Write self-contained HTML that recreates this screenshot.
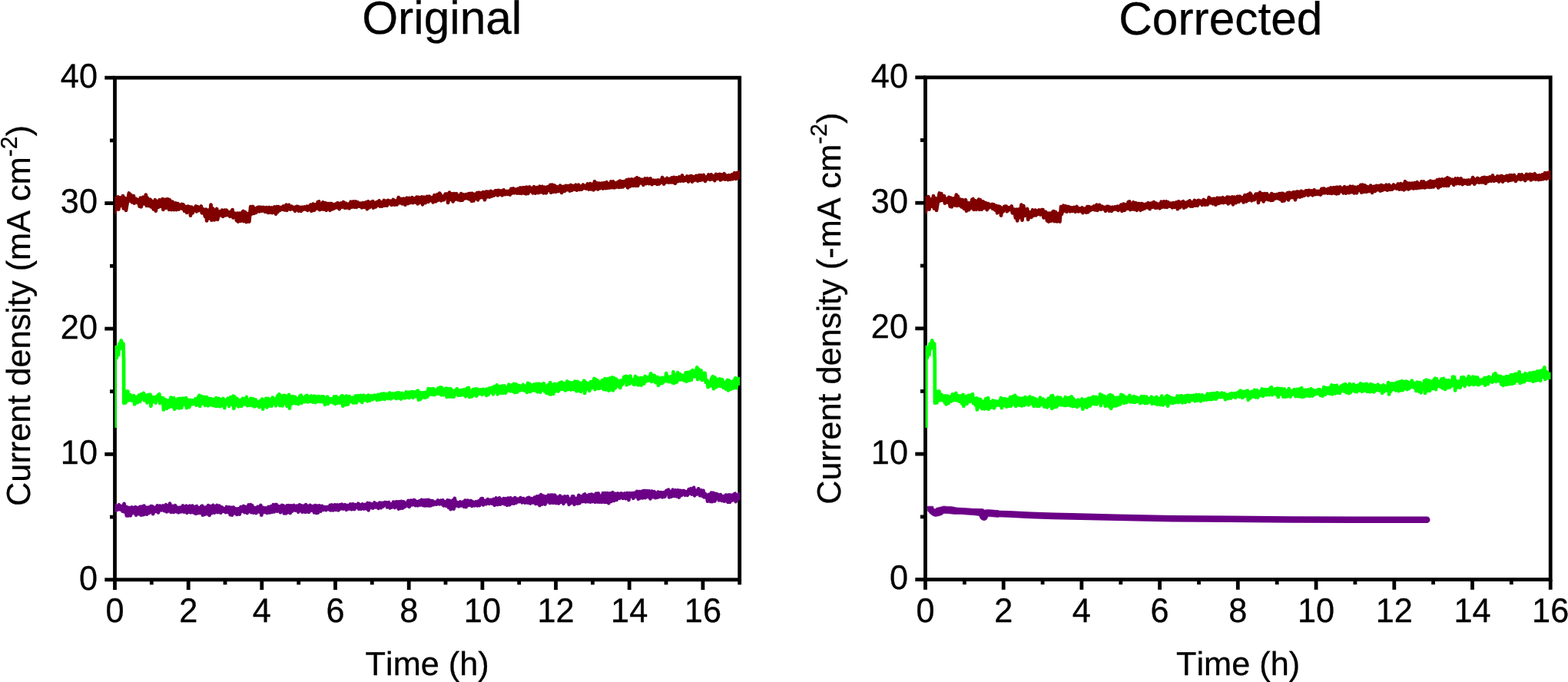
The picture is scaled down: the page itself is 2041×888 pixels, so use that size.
<!DOCTYPE html>
<html lang="en"><head><meta charset="utf-8"><title>Original vs Corrected</title>
<style>
html,body{margin:0;padding:0;background:#fff;}
body{width:2041px;height:888px;overflow:hidden;}
svg{display:block;}
text{text-rendering:geometricPrecision;font-kerning:none;font-family:"Liberation Sans",sans-serif;font-size:43.3px;fill:#000;stroke:#000;stroke-width:0.3px;stroke-linejoin:round;}
.title{font-size:60.4px;}
</style></head><body>
<svg width="2041" height="888" viewBox="0 0 2041 888">
<rect width="2041" height="888" fill="#fff"/>
<g id="left-plot">
<rect x="149.5" y="101.2" width="813.2" height="653.6" fill="none" stroke="#000" stroke-width="4.8"/>
<g stroke="#000" stroke-width="4.8" fill="none"><line x1="149.5" y1="754.8" x2="149.5" y2="768"/><line x1="197.3" y1="754.8" x2="197.3" y2="761.3"/><line x1="245.2" y1="754.8" x2="245.2" y2="768"/><line x1="293" y1="754.8" x2="293" y2="761.3"/><line x1="340.8" y1="754.8" x2="340.8" y2="768"/><line x1="388.7" y1="754.8" x2="388.7" y2="761.3"/><line x1="436.5" y1="754.8" x2="436.5" y2="768"/><line x1="484.3" y1="754.8" x2="484.3" y2="761.3"/><line x1="532.2" y1="754.8" x2="532.2" y2="768"/><line x1="580" y1="754.8" x2="580" y2="761.3"/><line x1="627.9" y1="754.8" x2="627.9" y2="768"/><line x1="675.7" y1="754.8" x2="675.7" y2="761.3"/><line x1="723.5" y1="754.8" x2="723.5" y2="768"/><line x1="771.4" y1="754.8" x2="771.4" y2="761.3"/><line x1="819.2" y1="754.8" x2="819.2" y2="768"/><line x1="867" y1="754.8" x2="867" y2="761.3"/><line x1="914.9" y1="754.8" x2="914.9" y2="768"/><line x1="962.7" y1="754.8" x2="962.7" y2="761.3"/><line x1="149.5" y1="754.8" x2="136.3" y2="754.8"/><line x1="149.5" y1="673.1" x2="143" y2="673.1"/><line x1="149.5" y1="591.4" x2="136.3" y2="591.4"/><line x1="149.5" y1="509.7" x2="143" y2="509.7"/><line x1="149.5" y1="428" x2="136.3" y2="428"/><line x1="149.5" y1="346.3" x2="143" y2="346.3"/><line x1="149.5" y1="264.6" x2="136.3" y2="264.6"/><line x1="149.5" y1="182.9" x2="143" y2="182.9"/><line x1="149.5" y1="101.2" x2="136.3" y2="101.2"/></g>
<clipPath id="cl"><rect x="149.5" y="99" width="813.5" height="658.0"/></clipPath>
<g clip-path="url(#cl)">
<path d="M149.1,655.8 149.9,664.9 151.1,659 152.7,663.8 154.7,657.3 156.3,663.4 157.9,659 159.6,665.6 161.6,655.8 162.4,666.7 163.9,659.9 164.8,671.4 166.1,660.6 167.3,671.3 168.7,661 169.9,671.3 171.8,660.5 173.6,667.9 174.8,661.3 176.2,660.2 177.1,670.7 178.9,661.1 180.6,669.1 182.3,659.8 183.6,670.7 184.7,659.7 186.4,670.2 187.5,658.5 188.8,669.5 190.2,660.8 191.3,669.7 192.9,660.5 194.5,667.8 196.4,659.2 198.4,659.4 199.2,669.2 201.3,660.9 203.1,665.8 204.7,658.4 206,667.5 208.1,658.6 210.2,664.2 212.1,658.4 213.9,665.2 216,657.2 216.8,666.4 218.1,658.3 219.3,665.4 221.1,655.6 222.6,666.9 224.6,658.9 226,666.9 228.1,658.2 230,666.3 231.1,660.9 232.5,667.3 234.5,660.7 236,666.3 238.1,658.4 239.6,666.7 240.8,659.7 242.5,658.6 243.3,667.8 244.4,661.8 245.8,666.5 247,658.7 248.4,667.3 250.4,658.6 252.3,667.5 253.5,660 254.9,668.8 256.1,659 257.3,668.1 259.2,661.3 260.4,667.9 262.1,659.3 263.1,658.7 263.9,670.7 265,660.3 266.8,669.8 268,660.7 269.8,669 271,658.2 272.5,671 273.8,659 275.2,668.3 277.3,657.9 279.2,667.7 280.6,659.7 282.2,658 283.1,667.1 285.4,658.6 287.3,667.7 289,660.5 290.3,665.8 292.3,662.2 293.7,667.1 295,660 296.9,666.9 298.3,660.3 299.7,670.1 301.2,660.8 302.1,670.7 303.8,660.5 305.2,668.1 306.9,662.5 308.3,669.9 309.9,662.3 311.9,669.5 313.5,660 315.2,665.5 317.1,659 318.4,667.1 319.7,660 321.7,668 323.6,657.5 325,666 326.2,657.2 327.1,667.2 328.1,658.1 330.1,667.6 331.4,661.1 333.4,668.1 335.4,659.8 337.1,666.4 339.4,657.9 340.3,670.6 343.1,660.9 344.4,666.7 346.2,661.4 347.6,667.9 349.5,660 351.2,667.4 352.6,659.3 353.9,666.9 355.7,657.2 356.9,666.4 358.2,657 360.1,657.2 360.9,665.7 363.5,659.4 364.9,667.2 366.9,658 368.9,658.6 369.8,668.5 370.7,660.4 372.3,668.4 373.5,658.4 374.7,667.1 376.2,658.2 377.9,668 379.1,658.3 380.6,665.5 382.6,658 384.6,664.6 386.4,658.6 388.2,666.6 389.9,657.4 391.1,664.9 392.3,658.2 393.4,666.7 395.4,658.6 397.2,666.7 398.2,657.2 399.1,666.4 400.4,658.8 402.1,666.8 403.7,657.8 405.5,664.6 406.9,659.1 409,667.3 410.2,658.1 411.8,667.9 412.9,658.6 413.8,667.7 415.7,658.3 417.5,665.6 419.3,658.8 421.2,663.7 423.2,660.1 424.6,664.1 426.4,660.1 428.4,663.3 429.6,658 430.4,664.4 431.9,657.5 433.7,664.4 435.7,657.3 437.4,663.9 439.1,657.4 440.6,664.3 442.2,657.4 443.9,662.3 445.1,656.7 446.9,662.6 449,657.3 450.9,663.8 452.7,657.9 454.2,662.6 456.1,656.4 457.7,663.2 459.3,656.3 461.2,663.1 462.4,657.1 464.2,660.7 466.2,655.8 467.1,662.6 468.7,657.2 470,662.7 471.8,656.4 473.4,662.5 475.1,656.9 477.1,662.4 478.5,655 479.6,664.3 481,655.3 482.8,660.9 484.1,656.4 485.4,661.6 487.4,654.5 489.1,660.4 490.7,656 492.6,661.9 494.1,654.6 495.8,661.2 497.2,654.8 498.7,659.4 500.6,654.1 503.1,654.3 503.9,660.5 506,654.1 507.7,661.4 509.1,656.4 510.4,660.3 512,653.6 513.9,661 515.8,653.3 517.8,653.5 518.7,662.6 519.7,653.4 521.1,661.9 522.3,652.8 523.9,661.7 525.3,653.4 526.6,660.2 528.1,654.8 529.8,658.5 531.4,651.9 532.9,659.8 534.8,651.6 536.8,657.3 538.4,651.1 539.8,651.3 540.7,658.2 542.7,653.3 543.9,658.3 545.7,652.4 547.3,657.6 548.7,650.9 550.6,658 551.8,651.3 553,658.5 554.6,651.1 555.7,658.3 557.6,650.9 559,658.5 560.2,651.9 561.4,658.1 563.1,652.2 564.7,657 566.4,653.6 568.1,656.6 570,651.4 572.1,656.3 573.9,651.7 575.2,656.3 576.5,651.3 577.5,658.4 579.2,653.4 580.7,658.7 582.5,651.3 583.8,660.8 585.2,651.7 586.7,663.1 588.5,652.2 589.8,651.3 590.7,662.6 591.8,648.9 593.6,658.6 595.1,654.1 597,659.3 599,653.4 600.2,658.4 602.2,653.6 604,659.8 605.3,651.5 606.8,660 608.6,651.6 610.6,657.8 612,652 613.2,652 614.2,658.9 615.7,653.6 617.5,658.2 619.6,653.3 621.1,658.4 622.9,652.5 624.2,658.1 626,649.6 627.9,649.1 628.9,657.4 631.5,651.9 632.8,656.3 634.8,650.1 636.8,655.8 638.9,651 640.5,655.7 642.4,649.9 643.8,657.8 645.8,648.5 647.8,657 650,648.4 651,656.7 652,650.1 653.6,655.5 655.5,649.1 657.1,656.4 658.2,649.4 660.1,657.8 661.3,648.6 663.2,657.3 664.5,648.3 665.9,655.6 667.8,649.7 669,655.7 670.3,648.1 671.9,654.7 673.7,649.6 675.7,653.2 677.4,648.1 679.5,654.3 681.1,649.1 683.1,654.5 684.3,649.8 685.6,654.3 686.8,648.4 687.7,654.7 688.6,647.9 690.5,655.5 692.2,649.2 693.8,654.4 695.8,647.7 697.4,656 698.8,646.4 700.3,655.8 701.4,646.2 702.4,658.1 704.2,644.2 705.6,656.7 707.5,645.7 709.5,656.5 711.2,646.3 712.8,653.3 714.1,644.7 715.8,655 717.1,644.5 718.1,654.4 719.1,644.6 720.2,654.8 722.3,644.7 723.9,655.1 725.4,647.4 727.3,655.4 728.9,645.5 730.5,653.8 732.3,647.5 733.5,655.9 735.1,646.3 736.7,653.2 738.7,646.3 740.7,656.8 742.1,649.8 743.7,654.8 744.9,646.4 746.5,646.4 747.5,656.9 750.3,649 751.9,655.6 753.3,644.9 754.6,655.1 756.3,646.2 758.4,653.1 759.6,644.5 761.2,643.5 762.2,653.4 763.9,645.4 765.3,653.2 767,644.1 768.5,653.6 769.9,643.7 771.6,653 772.9,644.5 774.7,653.7 775.9,642.5 777.5,653.4 778.9,642.4 780.2,653.7 781.8,645.9 783.4,653.8 784.8,642.2 786.4,653.6 787.8,642.1 788.7,653.9 790.6,642 792.3,655.1 794,642.4 795.7,653 797.6,641.2 799.3,651.9 801.3,642.8 802.6,650.9 804.4,642.5 806.3,648.9 808.3,642.4 809.8,642.7 810.7,648.9 813.2,642.4 814.5,649.1 816.6,641.9 818.5,651 819.8,642.1 821.1,646.3 823,642.1 824.3,648.8 825.5,641.8 827.5,646.5 829,639.8 830.9,649.7 832.1,640.1 833.6,648.4 835.4,639.8 836.5,648.5 837.8,639.2 839.1,639.1 840.1,648.2 841.6,639.1 843.7,646.8 844.9,639.4 846.5,649.4 848.3,639.6 849.9,647.1 851.7,640.2 853,648.1 854.2,642.4 855.4,647.8 856.6,640.5 858.2,646.9 859.9,641 861.2,641.2 862.2,647.4 864.1,641.1 865.4,646.6 867.3,639.2 870,637.8 871,647.4 872.6,640 873.8,646.7 875.8,637.7 877.4,645.9 879.2,638.3 880.7,646.3 882.2,638.3 883.9,647.5 885.4,638.7 887.1,644.9 888.2,639.2 890.6,639 891.6,644.6 893.2,640.3 894.8,644.8 896.6,637.2 898.1,642.7 899.4,636.2 900.7,643.5 903.1,634.8 904.1,645.3 905.4,638.6 907.3,643.4 909.1,636.4 911.1,645.1 912.8,638.4 914.3,645.8 915.6,638.9 916.6,647.4 917.6,642.7 920,645.1 921,652.7 922.9,643.8 924.9,652.9 925.9,641.6 926.9,653.2 928.6,641.9 930.5,652.5 932,642.9 934.8,644.1 935.7,651.3 937.8,644.1 939.6,651.9 941.5,646.2 943,652.6 944.8,644.6 946.5,644.9 947.5,654 949,644.3 950.1,653.8 951.6,644.7 953.3,651.4 955.1,643.6 956.8,642.8 957.7,653.2 960.2,644.6 961.9,643.4 962.9,651.1" fill="none" stroke="#6b0087" stroke-width="4.7" stroke-linejoin="round" stroke-linecap="butt"/>
<path d="M149.5,557 149.5,454.6 151,452 151.8,466 152.9,452.5 154.1,462 155.2,447.5 156.4,454 157.7,443.3 159,449 160.5,447.6 161.1,470 161.2,524.8 162,516 162.8,509.4 163.6,524.4 165.2,514 166.4,509.4 167.2,521.3 169.7,514.1 171,521.4 172.2,516.1 174.2,515.3 175.1,526.3 177.4,517.2 178.8,524.2 180.8,514.6 182.2,522.9 183.9,513.4 185.9,519.2 186.9,511.8 187.8,521.4 189.7,514.9 191.5,524.4 192.7,514.2 195.6,513.9 196.4,528.8 197.8,516.8 199.1,523.1 201,517.1 202.7,524.5 204.7,515.8 207.4,513.3 208.2,525 210.3,518.2 212.1,518.2 212.9,533.5 215.1,520.1 217.2,531.9 218.6,521.7 220.5,530 222.5,517.6 224.2,529.5 226.2,518.1 227.1,532.7 229.2,520.9 230.5,531 231.6,519.4 233.3,531.5 234.4,518.9 236.4,531 238,518.7 239.7,526.8 242.1,518.1 242.9,531.2 244.9,520.9 246.3,530.2 247.8,520.9 249.5,526.4 250.9,521.3 252.6,525.9 254.2,519.5 255.8,527.7 257.5,518.3 259.4,514.9 260.2,528.9 262.4,516 263.9,525.5 265.4,516.8 266.9,527.9 269,517 271,528.3 272.6,519 274.1,526.9 275.3,519.3 277.3,527.9 278.6,520.1 280.2,528.6 281.4,518 282.3,529 284.6,518.9 285.9,529.1 287,520.2 288.7,528.3 290.6,519 292.3,531.1 293.6,521 295.4,525.6 296.6,518.7 298.1,528.9 300,517.4 302,526.8 303.6,515.7 304.4,531.8 305.5,516.6 307.1,527.4 308.7,519.1 310.4,529.3 312.5,521.2 314.3,528.9 315.9,518.8 317.7,526.4 319.4,521 320.9,517 321.8,528.1 322.8,521.2 324.7,527.7 326.4,518.8 328.4,528.2 329.5,519.4 331.1,529.5 332.9,520.5 334.3,527.9 335.6,523.2 337.4,530.2 338.9,521.8 340.3,528.8 341.4,519.5 342.2,532.7 343.5,521.3 345,528.4 346.2,518.9 347.5,530.5 348.9,518.8 350.8,528.4 352.1,520.4 353.5,528.7 354.7,517.7 356.3,525.3 357.6,519.5 359.1,528.3 360.9,516.3 363.4,513.4 364.3,528.1 366,515.5 367.5,528.3 369.4,514.8 370.6,525.2 371.9,515.3 373.5,528.8 375,516.8 376.1,514 376.9,531.7 378.6,516.4 380.2,525.8 381.5,516.3 382.9,524.6 384.2,516.9 385.4,525.4 387.2,519.1 388.5,526.1 390.4,515.7 391.8,514.8 392.6,524.9 394.9,517.7 396.6,523 397.8,515.8 399.6,514.9 400.4,523.5 402.4,516.9 403.5,522.6 405.2,515.6 407.3,523.6 409.2,515.7 410.6,524.1 412.2,516.5 413.5,522.8 414.9,516.1 416.9,523 418.8,516.3 419.9,523.2 421.4,516.5 423.1,526.8 424.4,519.1 426.2,516.7 427.1,525.9 428.3,518.8 429.9,523.6 431.4,519.3 433.3,524.1 435,516.4 436.3,526 437.6,516.4 438.9,524.9 440.8,518.1 442.4,524.5 444.2,515.9 445.4,515.3 446.3,528.6 448.2,516.8 449.5,527.1 451,515.7 453,526.5 454.8,516 456.3,522.8 458.1,518.1 459.4,524.4 460.6,517 461.8,524.3 463.1,515.3 463.9,524.3 466.3,515.2 468.3,521.6 469.6,515 471.2,523.9 473.2,514.7 474.9,521 476.5,515.8 478.4,522.3 479.5,514.7 481.5,521.5 483.3,515.5 485.2,520 487.1,514.7 488.3,518.8 489.5,514.8 490.8,520.9 492.4,513.9 494.4,520.3 496.4,512.8 497.9,519.4 499.8,512.4 500.6,519.9 502.9,513.1 505,518.9 507,511.6 508.8,519.3 510.8,512.4 512.7,517.6 514.4,512.1 515.9,518.9 517.3,511.4 518.6,518.4 519.8,511.6 521.8,519.5 523.2,511.9 524.3,518.2 525.8,513.5 527,518.3 528.5,510.5 530,517.4 531.3,510.9 532.8,517.9 534.4,510.6 536.5,510.2 537.5,517.9 539.1,510.5 540.8,516.2 542.7,509.3 543.8,508.7 544.8,520.6 546.3,510.8 547.4,519.6 549.4,511.3 551.1,517.4 552.4,511.1 553.6,517.8 555,510.6 556.4,516.6 557.6,506 558.8,513.8 560.9,506.5 562.8,513.8 564,506 565.6,514.1 567.5,507.8 569.1,512.7 570.3,505.5 571.7,512.7 573.2,504.3 574.2,514.2 575.2,504.8 576.9,514.3 578.5,507.1 580.6,505.7 581.6,517 583.1,506.1 585,516.5 586.8,506.2 588.3,516.7 589.6,508.9 590.8,516.6 592,508.5 593.2,513.5 594.8,506.3 596.7,514.8 598,508.3 599.6,514.6 601.3,507.9 603,514 604.2,507.3 606.2,516.2 607.8,505.8 610,505 611,517 612.4,508.7 614.4,516.3 615.9,507.1 617.4,514.1 619,506.3 620.3,515.7 621.8,506.7 623.8,512.8 625.5,507.5 627.4,513.9 628.7,506.9 630.7,512.4 632,507.1 633,514.8 633.9,506.7 635.5,514 637.3,505.4 639,511.1 640.7,504.7 642,513.3 643.7,503.1 645.1,509.9 646.8,501.4 647.7,513.3 650.6,503.1 652.2,511.8 653.6,502.6 655.1,511.8 656.3,502.3 658.2,511.6 659.3,504.7 661,508.7 662.4,500.7 664.3,509.2 665.6,501.5 667.3,509.4 668.8,499.9 669.8,511.1 671.7,500.2 673.2,510.6 674.9,501.8 676.3,508.5 677.4,502.7 679,507.5 680.9,500.8 682.2,508.4 684.2,502.8 685.8,510.9 687.1,498.8 688.3,509.7 689.5,499.9 690.5,510 692.6,501.6 693.8,508.4 695.4,500.5 696.8,508.6 698.3,499.8 699.9,510.3 701.7,499.5 703.3,510.7 704.7,500.5 706,507.5 707.9,499.2 709.1,510 710.3,502.7 711.5,511.9 713.4,501.3 715.1,513.1 716.2,498 717.2,513.5 718.8,501 720.2,513 721.8,499.9 723.6,509 724.9,500.2 726.8,509.4 728.3,498.7 729.5,506.9 730.9,497.5 732.6,506.9 733.9,499.1 735.9,508.4 738.3,496.5 739.2,507.2 741.5,498 743.2,507.5 744.9,498.4 746.2,507.1 748.2,496.7 750.2,509.1 751.7,496.8 753.2,508.9 754.4,498.4 756.1,510 758.1,499.9 760.3,495.8 761.2,512 762.7,497.8 764.6,506.4 765.8,499.3 767.2,508.9 769,497 770.1,505.1 772,497.8 773.5,492.9 774.5,507.1 775.4,494.2 776.9,505.4 778.2,495.7 779.4,505.8 780.6,497.7 782,505.3 783.8,495.1 785.7,507 787.4,493.1 788.8,507.3 790.6,493.4 792.4,508.6 793.9,492.4 795.1,507.4 797.1,491.3 798.1,508.4 799.3,492.4 800.8,505.3 802,493.5 803.9,502.9 805.3,495.8 807.3,505 809.1,495.2 810.3,500.5 812.3,490.7 814.8,489.9 815.7,501.2 817.8,490.7 819.3,499.8 820.5,489.6 821.7,498.1 823.2,494.5 825.1,500.8 827,490 828.2,500.5 829.7,491.9 830.9,501.4 832.3,493.5 833.8,492 834.8,501.7 836.5,492.3 838.3,499.6 839.6,489.9 841.6,496.2 843.2,491.2 844.7,495.4 847.1,486.3 848.1,497 849.4,488.6 850.6,496.1 852,489 853.4,498.2 855.9,491 856.9,501.8 858.4,492.8 859.8,499.4 861,491.8 862.4,498.7 863.9,492 865.9,496.2 867.2,486.1 868.6,496.4 869.8,490.5 871.2,497.2 873.2,490.5 875.2,498.3 876.5,484.1 877.5,498.9 879.3,488.2 881,497.5 882.2,485.2 883.8,494.5 885.6,487.4 886.7,494.3 888.6,488.8 890.3,495.4 892.6,485.4 893.6,496.7 895.4,484.8 897,495.4 898.2,484.4 899.8,494.8 901.2,482.1 902.6,490.3 903.8,483.2 905.1,490.2 906.2,483 907.3,478.3 908.2,494 909.2,480.6 910.9,492.6 912.5,482.3 913.8,494.9 915.1,486 917.6,485.8 918.6,497.8 920.6,495.5 921.6,504.2 923.6,498.2 924.7,502.4 926.1,493.1 927.9,490.3 928.9,506.2 930.7,491.5 932.3,504.1 934.2,494.1 935.4,502.4 936.8,493.3 937.7,502.9 940.2,494.2 941.7,504.8 943,498.4 944.9,506.5 946.1,495.8 947,494.9 948,508.4 949.2,495.7 951.1,506.8 953.1,496.9 954.5,505.7 955.9,495.5 957.3,492.2 958.2,505.2 960,493 962.5,493.3 963.5,501.8" fill="none" stroke="#00ff00" stroke-width="4.7" stroke-linejoin="round" stroke-linecap="butt"/>
<path d="M149.1,255.4 149.9,276.2 151.2,258.3 153.6,256.4 154.4,272.6 156.2,257.3 157.9,267.8 160,255.1 160.8,271.5 161.9,257.5 163.2,258.5 164,273.9 166.7,258 167.9,251.5 168.8,261.5 170.3,253.5 171.9,263.3 174,255.1 174.8,264.7 177.2,259 178.6,263.9 180.1,260.2 181.7,268.7 182.9,257.6 183.8,269.4 186.4,256.7 187.9,265.4 189.9,253.5 190.8,267.8 191.8,257.6 193.5,268 195.6,259.7 196.4,269.4 197.7,261.8 199.7,272.4 202,260.2 202.8,274.6 204.4,262.4 206.3,269.8 207.5,260.3 208.9,268.7 210.3,261.7 211.6,259.1 212.4,272.8 214.4,259.8 215.8,270.8 217.3,259.4 219.2,259.6 220,272.8 221,260.3 223,273.1 224.8,262.7 226.5,273.1 227.7,266.2 228.8,264.5 229.6,273.2 231.6,265.1 232.8,272.5 234.2,267.6 236.4,266 237.2,271.8 238.5,266.3 240.1,274.7 241.7,269 243.1,276.9 244.8,268.7 247.2,269.7 248,280.6 249.3,269.7 250.8,277.3 252.3,271.9 254.9,268.6 255.8,275.3 257.4,269.2 258.5,274 260.1,271.1 261.9,268.6 262.8,277.3 265.1,272.5 266.9,281.7 268.2,272.7 269.1,287.3 271.5,273.6 272.6,284.3 274.6,266.6 275.4,286.7 277.3,271.7 278.9,286.4 280.4,275.5 282.2,272 283.1,285.9 285.4,275.3 287.4,280.2 289,273.6 290.1,281.8 292.4,273.6 293.3,280.5 295,273.7 296.2,280 297.5,275.9 299.3,281.8 301,275.8 302.6,273.1 303.4,283.4 306,277.8 308,287 308.9,277.7 309.8,288.6 311.5,277.6 313.4,287.8 315.4,276.3 316.6,275.1 317.4,288.1 319.2,276 320.8,289.2 322.5,278.2 323.6,277.9 324.4,288.6 326.2,269.1 327.1,278.9 329.3,269 330.5,277.9 331.9,271.4 333.5,276.8 335.2,270 337.1,269.7 337.9,275.3 339.8,269.8 341,274.6 343,269.9 344.9,275.7 346.6,270.1 348.7,276.9 350.4,270 351.6,276.7 353.6,270.4 354.4,277.1 357.1,269.5 359,278.6 360.2,269 361.4,276.2 362.5,269 364.4,273.8 366.3,270 367.6,272.6 368.9,268.4 370.3,273.4 372.6,266.7 373.4,274 376,266.8 378,272.7 379.9,268.8 381.8,272.3 383,269.9 384.1,274.7 386,268.8 387.9,269.1 388.8,274.6 390.4,269.9 391.9,274.8 393.3,269.7 394.9,272.7 396.4,269.5 397.8,272.5 399.6,268.6 400.4,273.9 401.5,268.9 402.7,272.7 404.3,266.7 405.5,274.8 407.4,265.6 409,273.8 410.6,266.5 412.3,271.7 413.7,262.9 415.2,262.5 416.1,273.2 417.5,265.7 418.9,272.4 420.3,263.4 421.7,272.7 423.6,264.2 424.7,273.8 426.3,265.1 428.6,265.3 429.4,273.8 431,265 432.3,272.5 433.5,266 434.8,271.4 436.8,265.6 438.3,270.2 439.5,264.2 441.6,272.2 443.3,264.6 445.3,269.5 446.8,263.1 448.7,270.6 449.8,264.6 451.2,270.5 453.1,265.6 454.7,271.3 456.6,262.7 458,269.6 460,262.4 461.2,269.7 463.1,262.4 463.9,270 465.5,263.4 467.5,268.5 469,264.8 470.9,270.3 472.3,264.1 474.1,269.7 476.1,263.5 477.9,272.2 479.2,262.4 481,270.2 483,263.3 485.1,262.3 485.9,270.7 487.9,263.8 489.1,269.4 491,262.8 492.3,267.4 493.6,261.4 494.8,268.6 496,263.2 497.5,268.6 499.8,260.9 500.6,267.7 501.9,261.8 503.8,267.7 505,260.9 506.2,265.3 507.9,261.7 509.8,266.9 511.8,259.9 513.5,266.7 514.7,261.5 516.7,266.4 518.7,257.1 520.7,264.3 522.4,259 523.8,265.3 525.5,258.7 527.4,266.7 529.5,257.7 531.1,264.9 532.7,257.8 534.1,264 536.5,257.2 537.5,264.1 538.8,258.4 540.3,263.4 542.3,256.6 543.7,265.5 545,256.8 546.5,263.8 549,256.5 550,266.3 551.7,256.6 553.7,264.2 555.7,255.8 557.6,262.8 558.9,255.7 560.4,260.9 562.4,257.2 563.7,263.4 565.4,254.1 567.4,262.3 569.4,253.2 570.8,260.5 572.1,251.6 573.2,252.8 574.2,261.3 576.3,255.6 577.7,260.2 579.6,252.5 582.1,252.6 583.1,264 585,250.6 586.4,259.8 588.1,252.3 589.6,262.5 591,252.2 592.2,259.7 594.1,252.2 596.1,260.2 597.2,254.6 599.1,260.9 600.2,252 601.8,260.7 603.2,253.4 605.2,258.3 606.7,253.1 608.3,258.3 610,252.1 611,259.4 612.9,252 613.9,261.8 614.8,251.8 616.5,261.4 618.3,252.9 620,258.5 621,251.1 622,260.3 623.5,250.7 624.7,257.5 626.2,251.4 627.7,257 628.9,250 631,260.2 632.8,249.6 634,256.4 635.3,249.7 637.2,256.5 638.7,248.9 640.1,255.5 641.5,250 643,254.6 644.6,248.4 646.8,248.4 647.7,254.5 648.9,247.8 650.6,253.1 652.2,248.4 653.7,254.3 655.6,247.3 657.6,253.1 659.4,248.9 660.9,252.8 662.2,248.8 663.9,253.5 665.3,245.9 666.6,251.5 668.2,245.5 669.5,251.3 671.2,246.6 673.1,251.5 674.2,245.7 676,251.5 677.3,244.5 678.7,251.9 680.5,244.3 682.6,251.6 683.5,244 684.5,252.3 685.8,243.7 687.3,251.9 689.3,243.5 690.6,249.2 692.4,245 693.6,251.4 695.2,243.2 697,251.6 699,244.1 700.9,251.1 702.5,242.7 704,250.2 705.8,242.9 707.5,251.4 709.2,243.7 711,251.3 712.9,243.1 714.9,247.7 716.2,240.9 717.2,250.7 718.6,240.6 720.4,249.9 721.9,241.5 723.8,249.8 725.2,243.2 727.1,248.9 729.1,241.6 731.1,250.9 733.1,242.9 734.9,248.9 736.5,241.8 737.9,247.2 739.6,242 741.6,248.5 743,241 744.4,247.8 746.2,242 748.2,246.6 749.5,240.7 750.8,247.6 752,241.9 753,240.8 754,247 755.6,242.7 756.9,246.7 758.8,240.6 760,245.1 761.3,242 762.9,245.6 764.8,239.5 766.4,246.5 768.2,239.1 769.6,246.4 771.1,239.9 772.7,247.3 773.9,236.4 775.2,245.6 776.6,238.2 778.4,246.4 779.7,238.5 781,245.2 783.1,238.6 784.8,245.5 786.4,238.1 788.2,245.2 789.8,237.2 790.7,244.8 791.9,239.3 793.6,244.4 795.3,236.5 796.5,244.2 798.1,236.3 799.6,244.4 800.9,238.3 802.4,243.5 804.4,236.8 805.7,243.9 806.9,235.5 808.4,243.7 809.6,236.3 810.8,243.4 812.8,236.2 814.4,241.9 815.6,234.3 817.2,244.5 818.5,233.6 820.1,242.7 822.1,233.3 824.2,241.9 826.5,232.8 827.5,241.8 829.1,231.3 830.3,241.8 831.8,232.5 833.7,238.4 835.6,233.8 837.4,240.9 839.5,232.5 841,239.1 842.8,232.5 844.7,239.2 846.7,232.5 848.6,240.2 850.6,234.6 852,238.7 853.5,235 855.2,239.8 856.5,234.5 857.9,239.5 859.4,234.6 860.7,237.5 862,231.1 863.2,232.7 864.2,239.6 865.1,233.7 866.3,237.5 868.2,232 870.2,237.7 871.6,232.9 873.3,237.3 874.5,231.5 875.9,237.4 877.1,230.9 878.9,238.8 880.5,231.3 882.4,236.1 884.2,230.4 886,235.7 888,228.5 889.7,235.6 891,231.4 892.3,234.9 894.2,229.5 896.1,236.6 897.9,229.6 900,229.1 901,236.7 903.3,230.2 904.6,234.5 906.2,228.8 908.2,235.6 910.1,228.2 911.3,234.8 912.4,228.2 913.9,234.1 915.9,227.9 917.9,235.9 919.8,230.5 921,233.1 922.3,227.5 924.2,233.9 925.7,227.3 927.1,233.2 929.2,229.3 930.3,235.1 931.9,226.9 933.9,232.6 935.7,227 936.8,226.9 937.7,234.5 939,227.3 940.7,233.2 942.7,226.2 944,233.6 945.5,228.6 947.6,234 948.9,228.2 950.7,233.6 952.6,227.4 953.9,233.2 956,225.2 957.9,232.9 959.1,225 961.2,231.4 962.5,224 963.5,232.4" fill="none" stroke="#800000" stroke-width="4.7" stroke-linejoin="round" stroke-linecap="butt"/>
</g>
<text transform="translate(149.5 810.1) scale(1 1.025)" text-anchor="middle">0</text><text transform="translate(245.2 810.1) scale(1 1.025)" text-anchor="middle">2</text><text transform="translate(340.8 810.1) scale(1 1.025)" text-anchor="middle">4</text><text transform="translate(436.5 810.1) scale(1 1.025)" text-anchor="middle">6</text><text transform="translate(532.2 810.1) scale(1 1.025)" text-anchor="middle">8</text><text transform="translate(627.9 810.1) scale(1 1.025)" text-anchor="middle">10</text><text transform="translate(723.5 810.1) scale(1 1.025)" text-anchor="middle">12</text><text transform="translate(819.2 810.1) scale(1 1.025)" text-anchor="middle">14</text><text transform="translate(914.9 810.1) scale(1 1.025)" text-anchor="middle">16</text><text transform="translate(127 767.5) scale(1 1.025)" text-anchor="end">0</text><text transform="translate(127 604.1) scale(1 1.025)" text-anchor="end">10</text><text transform="translate(127 440.7) scale(1 1.025)" text-anchor="end">20</text><text transform="translate(127 277.3) scale(1 1.025)" text-anchor="end">30</text><text transform="translate(127 113.9) scale(1 1.025)" text-anchor="end">40</text><text x="556.2" y="878.5" text-anchor="middle">Time (h)</text><text transform="translate(39 411) rotate(-90)" text-anchor="middle">Current density (mA cm<tspan dy="-17.5" font-size="30">-2</tspan><tspan dy="17.5">)</tspan></text>
</g>
<g id="right-plot">
<rect x="1204.5" y="100.8" width="813.7" height="653.8" fill="none" stroke="#000" stroke-width="4.8"/>
<g stroke="#000" stroke-width="4.8" fill="none"><line x1="1204.5" y1="754.6" x2="1204.5" y2="767.8"/><line x1="1255.4" y1="754.6" x2="1255.4" y2="761.1"/><line x1="1306.2" y1="754.6" x2="1306.2" y2="767.8"/><line x1="1357.1" y1="754.6" x2="1357.1" y2="761.1"/><line x1="1407.9" y1="754.6" x2="1407.9" y2="767.8"/><line x1="1458.8" y1="754.6" x2="1458.8" y2="761.1"/><line x1="1509.6" y1="754.6" x2="1509.6" y2="767.8"/><line x1="1560.5" y1="754.6" x2="1560.5" y2="761.1"/><line x1="1611.3" y1="754.6" x2="1611.3" y2="767.8"/><line x1="1662.2" y1="754.6" x2="1662.2" y2="761.1"/><line x1="1713.1" y1="754.6" x2="1713.1" y2="767.8"/><line x1="1763.9" y1="754.6" x2="1763.9" y2="761.1"/><line x1="1814.8" y1="754.6" x2="1814.8" y2="767.8"/><line x1="1865.6" y1="754.6" x2="1865.6" y2="761.1"/><line x1="1916.5" y1="754.6" x2="1916.5" y2="767.8"/><line x1="1967.3" y1="754.6" x2="1967.3" y2="761.1"/><line x1="2018.2" y1="754.6" x2="2018.2" y2="767.8"/><line x1="1204.5" y1="754.6" x2="1191.3" y2="754.6"/><line x1="1204.5" y1="672.9" x2="1198" y2="672.9"/><line x1="1204.5" y1="591.1" x2="1191.3" y2="591.1"/><line x1="1204.5" y1="509.4" x2="1198" y2="509.4"/><line x1="1204.5" y1="427.7" x2="1191.3" y2="427.7"/><line x1="1204.5" y1="346" x2="1198" y2="346"/><line x1="1204.5" y1="264.2" x2="1191.3" y2="264.2"/><line x1="1204.5" y1="182.5" x2="1198" y2="182.5"/><line x1="1204.5" y1="100.8" x2="1191.3" y2="100.8"/></g>
<clipPath id="cr"><rect x="1204.5" y="99" width="814.0" height="658.0"/></clipPath>
<g clip-path="url(#cr)">
<path d="M1205.3,557 1205.3,454.6 1206.1,452 1206.9,466 1208.1,452.5 1209.4,462 1210.6,447.5 1211.8,454 1213.2,443.3 1214.6,449 1216.2,447.6 1216.8,470 1216.9,524.8 1217.8,516 1218.6,509.4 1219.5,524.5 1221.1,514.1 1222.4,509.4 1223.3,521.2 1225.6,513.8 1226.9,521 1228.1,515.7 1229.9,524.3 1230.8,515.3 1231.7,526.3 1233.3,515.6 1234.6,524.8 1236.7,516.6 1238.1,522.5 1239.8,513.4 1241.8,521.1 1244.2,511.8 1245.1,521.3 1247.4,515.1 1248.6,522.7 1250.5,515.7 1252.2,525.5 1253.5,513.9 1254.4,528.8 1256.9,516.1 1258.5,525.9 1260.6,514.9 1262.4,522.9 1264.5,514.3 1266,513.3 1266.9,525 1267.9,518.9 1269.6,527.3 1271,518.3 1271.9,533.5 1273,519.4 1274.5,530 1276.3,520 1278.4,532.1 1280.1,522.7 1281.4,532.4 1283.3,519.1 1285,531.8 1286.1,518.1 1287,532.7 1289.1,523.2 1290.3,530.5 1292.3,521.5 1293.9,531.5 1295.5,522 1297,527.9 1298.8,522.8 1300.8,527.6 1302.9,518.1 1303.8,531.2 1305.4,519.4 1306.8,528 1308.5,519.2 1310.1,529.7 1311.6,520.1 1313.4,528.9 1315,517.2 1316.2,528.7 1318.3,516.3 1319.8,526.5 1321.3,514.9 1322.2,528.9 1324.8,517.8 1326.9,527.7 1328.5,518.7 1330,528.4 1331.2,518.5 1333.2,527.6 1334.5,517 1336.1,526.2 1337.6,518.5 1339,527.3 1340.5,516.5 1341.8,525.5 1342.9,521.8 1344.8,518 1345.7,529 1348.2,519.4 1349.5,528.6 1351.3,521.2 1352.4,528.8 1354,517.7 1355.9,527 1357.9,519.6 1359.4,529.6 1361.4,521.6 1363,530.4 1364.6,518.9 1366.3,528.3 1368.3,515.7 1369.2,531.9 1370.2,515.1 1371.8,530.5 1373.6,518.6 1375.3,529.8 1376.8,517.1 1378.6,527 1380.5,517.9 1382.2,527.4 1384.3,520.4 1385.4,527.9 1386.7,517 1387.6,528 1388.7,518.2 1390.2,527.4 1391.5,517.9 1393.3,528.2 1394.8,516.3 1396.2,529.1 1397.3,519.3 1399.4,528.6 1400.8,522 1402.1,529.9 1403.4,520.5 1404.8,528 1406.7,523.3 1408.5,519.5 1409.4,532.7 1410.6,520.9 1412.2,529.7 1413.5,520.1 1414.9,530.7 1416.8,518.6 1418.8,528.6 1420.7,517.8 1421.9,526 1423.3,516.5 1425.3,526.2 1426.4,516.8 1427.7,526.3 1429.3,518.5 1430.8,522.9 1432,513.4 1432.9,528.1 1434.5,514.5 1436,524.1 1437.4,515.8 1438.7,528.8 1440.1,517.6 1441.3,527.9 1443.1,515.2 1444.3,529.8 1445.4,514 1446.3,531.8 1448,515.3 1449.2,528.6 1450.8,517.9 1452.5,528.4 1453.7,517.9 1455.3,527.5 1456.4,517.6 1458.3,526.3 1459.4,513.8 1461.1,522.6 1462.1,514.8 1463,524.9 1465.1,517.1 1466.5,524 1468.1,517.3 1469.3,520.9 1470.4,514.9 1471.3,523.5 1472.7,517.1 1474.6,523.6 1475.8,516.1 1477.3,523.8 1479,517.2 1480.3,522.6 1482.2,518.1 1484.2,525.1 1485.8,516.1 1487.3,524 1489.2,516.4 1490.8,525 1492.1,516.5 1493.5,524.9 1494.8,519.1 1496.7,523.2 1498.8,516.7 1499.7,525.9 1502,518.3 1504.1,526 1505.4,516.8 1506.9,526.6 1508.8,518.8 1510.7,526.9 1512.2,515.7 1513.9,527.3 1515.2,518.6 1516.5,525.7 1517.7,516.2 1519.2,515.3 1520.1,528.6 1522.1,516.6 1524.2,524.7 1525.4,518.1 1527.1,524.9 1529,519 1530.7,523.9 1532.4,515.6 1534.2,524 1535.4,515.8 1537.9,515.3 1538.8,524.3 1541.1,516.1 1543,523.9 1544.2,515 1545.4,522 1546.7,514.8 1548.3,523 1550.3,515.2 1552.3,520.9 1553.8,514.9 1555.5,522.2 1557.4,514 1558.8,521.5 1560.8,514.1 1562.9,522.3 1564.7,514.3 1566.7,520.8 1568.6,515.8 1570.3,520.7 1571.7,512.7 1573.1,519.6 1574.5,513 1575.6,520.1 1577,512.4 1577.9,519.9 1579.1,512.4 1580.2,519.2 1581.6,512.1 1582.8,519.6 1584.4,511.4 1585.8,517.3 1587.1,512.8 1588.7,517 1590.2,511.6 1591.7,516.9 1593.6,512.2 1595,520.2 1596.6,513.7 1598.6,518.7 1600.6,512.9 1602.1,518.5 1603.3,512.1 1605.3,516.6 1606.9,512.4 1608.3,517.8 1609.5,511.8 1610.8,515.6 1612.3,510.4 1613.5,516.7 1614.7,508.7 1616.1,510.2 1617,517.9 1618.7,510 1619.9,516.3 1621.5,509.5 1623.9,508.7 1624.8,520.7 1626.2,510.5 1627.6,518.4 1629.1,510 1631.1,516.3 1632.8,507.9 1634.3,517.4 1636.1,508.1 1637.2,517.6 1639,509.7 1640.9,514.7 1642.7,506.5 1644.1,515.9 1645.5,507.2 1646.6,514.1 1647.8,507.2 1649.1,514 1650.7,507.1 1652.5,514.2 1653.9,504.8 1655.1,504.3 1656,514.2 1657.2,507.7 1658.9,512.3 1660,506.4 1662,514.3 1663,505.7 1663.9,517 1665.1,506.1 1666.5,513.2 1668.3,506.1 1670.3,516.6 1671.7,506.5 1673.2,516.7 1674.9,509.2 1676.2,516 1677.7,506.1 1679.7,516.5 1681.3,509 1683.2,513.6 1684.6,507.2 1686.6,516 1688.4,506.9 1689.8,516.2 1691.4,506.7 1693.2,516.3 1694.3,505 1695.2,517 1696.5,508.5 1697.9,516.3 1699.5,507.7 1701,515.1 1702.9,507.5 1704.4,515.9 1706.4,506.3 1708.1,515.6 1709.4,507.9 1711,513.8 1712.2,508.9 1714,512.9 1715.2,507.5 1717.6,507.1 1718.5,514.8 1720.2,508.7 1721.4,515.6 1723.2,504 1725,513.8 1726.3,505.1 1727.6,512 1729.1,505.1 1730.8,512.6 1732.2,504.2 1733.3,501.4 1734.2,513.3 1736.7,502.1 1738,512.5 1740,501.8 1741.7,511.3 1742.9,504.8 1744.1,512 1745.6,502.6 1747.2,508.6 1748.5,501 1749.7,509.6 1751.3,500 1752.7,511.1 1754.2,502.3 1755.7,512.1 1756.8,499.9 1757.7,511.1 1759.2,501.8 1760.6,508.8 1761.8,500.3 1763.8,509.6 1765,502.3 1766.2,510.3 1767.4,501.5 1769.3,508.4 1770.9,499.3 1772.9,509.8 1774.7,500.5 1776.1,508.5 1777.6,500.1 1778.8,499.9 1779.7,510 1780.8,501.5 1782.7,510.1 1784.2,500 1785.4,509.7 1786.8,501 1788.5,510.4 1789.7,502.2 1791.7,508 1793.7,500.7 1795.3,508.5 1797.3,502.7 1799.1,511.9 1800.8,501.4 1802,509.6 1804.1,503 1806.1,508.4 1807.2,498 1808.1,513.5 1809.1,499.8 1810.3,509.6 1812,499.3 1814,506.8 1815.4,499.5 1816.8,508.5 1818.5,497.8 1820.4,509.2 1821.7,497 1823.1,508.2 1824.8,496.1 1826,508.1 1827.9,497.1 1829.3,505.6 1830.7,496.5 1831.6,507.1 1832.8,497.5 1834.1,506 1835.2,498.5 1836.4,504.1 1837.8,495.5 1839.7,504.3 1841.5,498.9 1843.3,508.9 1844.7,497.5 1846.4,509.5 1848.3,498.1 1849.7,511.3 1850.9,500.7 1852.5,506.1 1854.1,495.8 1855,512 1856.6,494.6 1857.8,508.9 1859.8,495.5 1861.2,508.8 1863.2,496.7 1865,505.9 1866.1,495.4 1868.1,492.8 1869,507.1 1870,493.3 1871.6,503 1873.6,497 1875.2,503.7 1876.3,493.7 1877.6,505.3 1879,492.9 1881,507 1882.9,495.3 1884.1,504.9 1885.6,495 1886.8,504.7 1888.1,496.3 1889.6,502.5 1891.1,490.5 1893.2,491.3 1894.1,508.4 1895.5,496.2 1897.5,504 1899,496.6 1900.6,504.8 1902.4,491.3 1903.9,500.7 1905.2,491.2 1906.5,502.8 1907.9,493.5 1909.2,500 1911.9,489.9 1912.8,501.2 1914.3,493.4 1915.7,499.8 1916.9,490.7 1918.3,501 1919.8,491.1 1921.8,500.3 1923.1,491.4 1924.4,501.2 1925.7,494.5 1927.1,499.6 1929.1,494.4 1931.1,499.2 1932.2,492 1933.1,501.7 1935.2,491.8 1936.9,500.1 1938.1,490.6 1939.6,496.4 1941.5,492 1942.6,497.7 1944.4,487.3 1946.4,486.3 1947.3,497 1949.7,489.2 1951.2,495.8 1952.9,489.8 1954.1,500.3 1955.7,491 1956.6,501.8 1958.5,491.3 1959.7,500.8 1960.9,490.2 1962.1,500.5 1963.7,490 1965.1,500.2 1966.7,488.2 1968.3,499.7 1969.7,488.2 1970.9,499 1972.6,486.9 1974.4,496.3 1976.2,487 1977.6,484.1 1978.5,498.9 1979.5,488.6 1980.6,498 1982,488.4 1983.9,497.1 1985.4,486.3 1986.6,495.1 1988.1,487.1 1990.1,495.2 1991.3,485.6 1992.5,495.2 1994.8,485.4 1995.7,496.7 1997.5,484.9 1998.9,495.6 2000.8,483.5 2002,494.9 2003.4,483.4 2005.1,495.7 2007,482 2008.9,490.7 2010.4,478.3 2011.3,494 2013.2,484.1 2014.5,492.1 2015.8,486.5 2017.7,491.7 2019.8,485.1" fill="none" stroke="#00ff00" stroke-width="4.7" stroke-linejoin="round" stroke-linecap="butt"/>
<path d="M1204,255.4 1205,276.2 1206.2,259.8 1208.5,256.3 1209.5,272.6 1211.2,259.7 1212.9,268.5 1215,255.1 1215.9,271.5 1216.9,258.1 1218.1,258.5 1219,273.9 1221.7,257.5 1222.8,251.5 1223.8,261.5 1225.3,252.1 1226.9,260.7 1229,255.1 1229.9,264.7 1232.2,259 1233.6,263.7 1235.1,256.8 1236.7,268.8 1237.8,257.6 1238.8,269.4 1241.4,258.5 1242.9,267.4 1244.8,253.5 1245.8,267.8 1246.8,255.7 1248.5,267.5 1250.5,259.7 1251.5,269.4 1252.7,260.1 1254.7,271.5 1257,260.2 1257.9,274.6 1259.4,264.1 1261.3,273.2 1262.5,264.3 1263.9,270.9 1265.3,259.9 1266.5,259.1 1267.5,272.8 1269.4,261.3 1270.8,272.8 1272.3,263.3 1274.1,259.6 1275,272.8 1276,260.3 1278,272.6 1279.8,262.5 1281.5,270.8 1282.7,264.2 1283.8,264.5 1284.7,273.2 1286.6,265.2 1287.8,270.3 1289.2,267.2 1291.3,266 1292.2,271.8 1293.5,266.3 1295.1,273.3 1296.7,267.8 1298.1,277.3 1299.8,268.6 1302.1,269.7 1303,280.6 1304.3,271 1305.8,275.4 1307.3,268.9 1309.8,268.6 1310.8,275.3 1312.4,270.3 1313.5,273.4 1315.1,270.7 1316.8,268.6 1317.8,277.3 1320.1,272.7 1321.9,283.7 1323.2,272.7 1324.2,287.3 1326.5,272.4 1327.6,283.1 1329.5,266.6 1330.5,286.7 1332.3,268.1 1333.9,280.9 1335.4,275.7 1337.2,272 1338.2,285.9 1340.4,276.4 1342.4,282.9 1344,273.3 1345.1,281 1347.5,273.6 1348.4,280.5 1350,274.6 1351.2,278.8 1352.5,273.5 1354.3,279.5 1356,273 1357.5,273.1 1358.5,283.4 1361,275.8 1363,287.3 1364,277.7 1364.9,288.6 1366.5,277.7 1368.4,287.7 1370.4,275.8 1371.5,275.1 1372.5,288.1 1374.2,276.1 1375.8,288.5 1377.5,281.1 1378.5,277.9 1379.5,288.6 1381.1,269.1 1382,278.9 1384.3,267.7 1385.5,274.5 1386.9,268.4 1388.5,275.7 1390.2,269.1 1392,269.7 1393,275.3 1394.8,270.4 1396,274.9 1398,269.9 1399.9,275.8 1401.6,269 1403.7,275.3 1405.4,271.4 1406.6,274.9 1408.5,270.4 1409.5,277.1 1412.1,271.6 1414,276.7 1415.2,269 1416.4,276.2 1417.5,269 1419.4,273.8 1421.3,270 1422.6,272.6 1423.9,268.4 1425.3,273.4 1427.5,266.7 1428.5,274 1431,266.8 1433,272.7 1434.9,268.8 1436.8,272.3 1438,269.9 1439.1,274.7 1441,268.8 1443,269.1 1443.9,274.6 1445.4,269.9 1446.9,274.8 1448.3,269.7 1449.9,272.7 1451.4,269.5 1452.8,272.5 1454.5,268.6 1455.5,273.9 1456.5,268.9 1457.7,272.7 1459.3,266.7 1460.5,274.8 1462.4,265.6 1464,273.8 1465.6,266.5 1467.3,271.7 1468.7,262.9 1470.2,262.5 1471.2,273.2 1472.5,265.7 1473.9,272.4 1475.3,263.4 1476.7,272.7 1478.6,264.2 1479.7,273.8 1481.3,265.1 1483.5,265.3 1484.5,273.8 1486,265 1487.3,272.5 1488.5,266 1489.8,271.4 1491.8,265.6 1493.3,270.2 1494.5,264.2 1496.6,272.2 1498.3,264.6 1500.3,269.5 1501.8,263.1 1503.7,270.6 1504.8,264.6 1506.2,270.5 1508.1,265.6 1509.7,271.3 1511.6,262.7 1513,269.6 1515,262.4 1516.2,269.7 1518,262.4 1519,270 1520.5,263.4 1522.5,268.5 1524,264.8 1525.9,270.3 1527.3,264.1 1529.1,269.7 1531.1,263.5 1532.9,272.2 1534.2,262.4 1536,270.2 1538,263.3 1540,262.3 1541,270.7 1542.9,263.8 1544.1,269.4 1546,262.8 1547.3,267.4 1548.6,261.4 1549.8,268.6 1551,263.2 1552.5,268.6 1554.8,260.9 1555.7,267.7 1556.9,261.8 1558.8,267.7 1560,260.9 1561.2,265.3 1562.9,261.7 1564.8,266.9 1566.8,259.9 1568.5,266.7 1569.7,261.5 1571.7,266.4 1573.7,257.1 1575.7,264.3 1577.4,259 1578.8,265.3 1580.5,258.7 1582.4,266.7 1584.5,257.7 1586.1,264.9 1587.7,257.8 1589.1,264 1591.5,257.2 1592.5,264.1 1593.8,258.4 1595.3,263.4 1597.3,256.6 1598.7,265.5 1600,256.8 1601.5,263.8 1604,256.5 1605,266.3 1606.7,256.6 1608.7,264.2 1610.7,255.8 1612.6,262.8 1613.9,255.7 1615.4,260.9 1617.4,257.2 1618.7,263.4 1620.4,254.1 1622.4,262.3 1624.4,253.2 1625.8,260.5 1627.1,251.6 1628.2,252.8 1629.2,261.3 1631.3,255.6 1632.7,260.2 1634.6,252.5 1637.1,252.6 1638,264 1640,250.6 1641.4,259.8 1643.1,252.3 1644.6,262.5 1646,252.2 1647.2,259.7 1649.1,252.2 1651.1,260.2 1652.2,254.6 1654.1,260.9 1655.2,252 1656.8,260.7 1658.2,253.4 1660.2,258.3 1661.7,253.1 1663.3,258.3 1665,252.1 1666,259.4 1668,252 1668.9,261.8 1669.8,251.8 1671.5,261.4 1673.3,252.9 1675,258.5 1676,251.1 1677,260.3 1678.5,250.7 1679.7,257.5 1681.2,251.4 1682.7,257 1683.9,250 1686,260.2 1687.8,249.6 1689,256.4 1690.3,249.7 1692.2,256.5 1693.7,248.9 1695.1,255.5 1696.5,250 1698,254.6 1699.6,248.4 1701.8,248.4 1702.7,254.5 1703.9,247.8 1705.6,253.1 1707.2,248.4 1708.7,254.3 1710.6,247.3 1712.6,253.1 1714.4,248.9 1715.9,252.8 1717.2,248.8 1718.9,253.5 1720.3,245.9 1721.6,251.5 1723.2,245.5 1724.5,251.3 1726.2,246.6 1728.1,251.5 1729.2,245.7 1731,251.5 1732.3,244.5 1733.7,251.9 1735.5,244.3 1737.6,251.6 1738.5,244 1739.5,252.3 1740.8,243.7 1742.3,251.9 1744.3,243.5 1745.6,249.2 1747.4,245 1748.6,251.4 1750.2,243.2 1752,251.6 1754,244.1 1755.9,251.1 1757.5,242.7 1759,250.2 1760.8,242.9 1762.5,251.4 1764.2,243.7 1766,251.3 1767.9,243.1 1769.9,247.7 1771.2,240.9 1772.2,250.7 1773.6,240.6 1775.4,249.9 1776.9,241.5 1778.8,249.8 1780.2,243.2 1782.1,248.9 1784.1,241.6 1786.1,250.9 1788.1,242.9 1789.9,248.9 1791.5,241.8 1792.9,247.2 1794.6,242 1796.6,248.5 1798,241 1799.4,247.8 1801.2,242 1803.2,246.6 1804.5,240.7 1805.8,247.6 1807,241.9 1808,240.8 1809,247 1810.6,242.7 1811.9,246.7 1813.8,240.6 1815,245.1 1816.3,242 1817.9,245.6 1819.8,239.5 1821.4,246.5 1823.2,239.1 1824.6,246.4 1826.1,239.9 1827.7,247.3 1828.9,236.4 1830.2,245.6 1831.6,238.2 1833.4,246.4 1834.7,238.5 1836,245.2 1838.1,238.6 1839.8,245.5 1841.4,238.1 1843.2,245.2 1844.8,237.2 1845.7,244.8 1846.9,239.3 1848.6,244.4 1850.3,236.5 1851.5,244.2 1853.1,236.3 1854.6,244.4 1855.9,238.3 1857.4,243.5 1859.4,236.8 1860.7,243.9 1861.9,235.5 1863.4,243.7 1864.6,236.3 1865.8,243.4 1867.8,236.2 1869.4,241.9 1870.6,234.3 1872.2,244.5 1873.5,233.6 1875.1,242.7 1877.1,233.3 1879.2,241.9 1881.5,232.8 1882.5,241.8 1884.1,231.3 1885.3,241.8 1886.8,232.5 1888.7,238.4 1890.6,233.8 1892.4,240.9 1894.5,232.5 1896,239.1 1897.8,232.5 1899.7,239.2 1901.7,232.5 1903.6,240.2 1905.6,234.6 1907,238.7 1908.5,235 1910.2,239.8 1911.5,234.5 1912.9,239.5 1914.4,234.6 1915.7,237.5 1917,231.1 1918.2,232.7 1919.2,239.6 1920.1,233.7 1921.3,237.5 1923.2,232 1925.2,237.7 1926.6,232.9 1928.3,237.3 1929.5,231.5 1930.9,237.4 1932.1,230.9 1933.9,238.8 1935.5,231.3 1937.4,236.1 1939.2,230.4 1941,235.7 1943,228.5 1944.7,235.6 1946,231.4 1947.3,234.9 1949.2,229.5 1951.1,236.6 1952.9,229.6 1955,229.1 1956,236.7 1958.3,230.2 1959.6,234.5 1961.2,228.8 1963.2,235.6 1965.1,228.2 1966.3,234.8 1967.4,228.2 1968.9,234.1 1970.9,227.9 1972.9,235.9 1974.8,230.5 1976,233.1 1977.3,227.5 1979.2,233.9 1980.7,227.3 1982.1,233.2 1984.2,229.3 1985.3,235.1 1986.9,226.9 1988.9,232.6 1990.7,227 1991.8,226.9 1992.7,234.5 1994,227.3 1995.7,233.2 1997.7,226.2 1999,233.6 2000.5,228.6 2002.6,234 2003.9,228.2 2005.7,233.6 2007.6,227.4 2008.9,233.2 2011,225.2 2012.9,232.9 2014.1,225 2016.2,231.4 2017.5,224 2018.5,232.4 2019.7,223.7" fill="none" stroke="#800000" stroke-width="4.7" stroke-linejoin="round" stroke-linecap="butt"/>
</g>
<path d="M1207.1,659.2 1214.7,659.2 1215.0,661.2 1216.7,663.0 1219.3,661.2 1223.8,660.2 1228.4,658.9 1232.9,659.4 1239.5,659.7 1245.6,661.0 1255.8,661.5 1265.9,662.2 1279.6,662.5 1281.6,664.0 1286.2,663.5 1300.0,664.6 1300.0,673.4 1286.2,672.6 1285.1,674.9 1283.6,676.9 1281.1,677.7 1278.1,676.9 1276.0,674.9 1274.5,671.4 1265.9,670.6 1260.8,670.3 1250.7,669.6 1243.1,669.6 1235.5,668.8 1228.4,668.6 1226.4,670.3 1222.8,671.6 1217.7,672.6 1214.2,671.4 1210.1,668.3 1207.6,665.3 1207.1,661.7Z" fill="#6b0087" stroke="#6b0087" stroke-width="0.6" stroke-linejoin="round"/>
<path d="M1299,669 1312.6,669.4 1342,670.9 1371.4,671.9 1395,672.4 1453.5,673.7 1527,675.2 1600.5,675.8 1680,676.5 1760,676.8 1857.2,676.8" fill="none" stroke="#6b0087" stroke-width="8.6" stroke-linejoin="round" stroke-linecap="round"/>
<text transform="translate(1204.5 810.1) scale(1 1.025)" text-anchor="middle">0</text><text transform="translate(1306.2 810.1) scale(1 1.025)" text-anchor="middle">2</text><text transform="translate(1407.9 810.1) scale(1 1.025)" text-anchor="middle">4</text><text transform="translate(1509.6 810.1) scale(1 1.025)" text-anchor="middle">6</text><text transform="translate(1611.3 810.1) scale(1 1.025)" text-anchor="middle">8</text><text transform="translate(1713.1 810.1) scale(1 1.025)" text-anchor="middle">10</text><text transform="translate(1814.8 810.1) scale(1 1.025)" text-anchor="middle">12</text><text transform="translate(1916.5 810.1) scale(1 1.025)" text-anchor="middle">14</text><text transform="translate(2018.2 810.1) scale(1 1.025)" text-anchor="middle">16</text><text transform="translate(1182 767.3) scale(1 1.025)" text-anchor="end">0</text><text transform="translate(1182 603.9) scale(1 1.025)" text-anchor="end">10</text><text transform="translate(1182 440.4) scale(1 1.025)" text-anchor="end">20</text><text transform="translate(1182 276.9) scale(1 1.025)" text-anchor="end">30</text><text transform="translate(1182 113.5) scale(1 1.025)" text-anchor="end">40</text><text x="1611.6" y="878.5" text-anchor="middle">Time (h)</text><text transform="translate(1093.7 401.7) rotate(-90)" text-anchor="middle">Current density (-mA cm<tspan dy="-17.5" font-size="30">-2</tspan><tspan dy="17.5">)</tspan></text>
</g>
<text class="title" x="575.2" y="44.4" text-anchor="middle">Original</text>
<text class="title" x="1588.8" y="44.5" text-anchor="middle">Corrected</text>
</svg>
</body></html>
